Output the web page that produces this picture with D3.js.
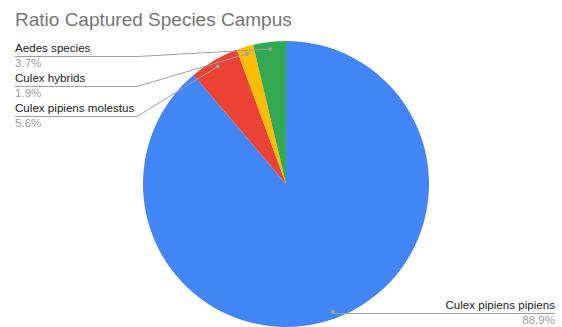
<!DOCTYPE html>
<html>
<head>
<meta charset="utf-8">
<script src="https://cdn.jsdelivr.net/npm/d3@7"></script>
<style>
  html, body { margin: 0; padding: 0; background: #fff; }
  svg { display: block; font-family: "Liberation Sans", Arial, sans-serif; }
</style>
</head>
<body>
<svg id="chart" width="562" height="327"></svg>
<script>
// Species share of captured mosquitoes on campus
const species = ["Culex pipiens pipiens", "Culex pipiens molestus", "Culex hybrids", "Aedes species"];
const shares = [88.9, 5.6, 1.9, 3.7];
const shareLabels = ["88.9%", "5.6%", "1.9%", "3.7%"];
const colours = ["#4285f4", "#ea4335", "#fbbc04", "#34a853"];

const svg = d3.select("#chart");
const cx = 286, cy = 184, R = 143;

const title = svg.append("text")
  .attr("x", 15).attr("y", 26)
  .attr("font-size", 19)
  .attr("fill", "#757575")
  .text("Ratio Captured Species Campus");

const data = species.map((name, i) => ({ name, value: shares[i], label: shareLabels[i], colour: colours[i] }));

const pie = d3.pie().sort(null).value(d => d.value);
const arcs = pie(data);
const arc = d3.arc().innerRadius(0).outerRadius(R);
const dotArc = d3.arc().innerRadius(R * 0.95).outerRadius(R * 0.95);

const g = svg.append("g").attr("transform", `translate(${cx},${cy})`);
g.selectAll("path.slice")
  .data(arcs)
  .join("path")
  .attr("class", "slice")
  .attr("d", arc)
  .attr("fill", d => d.data.colour);

// Label layout: small slices stacked on the left, the big one bottom-right
const leftRows = { "Aedes species": 0, "Culex hybrids": 1, "Culex pipiens molestus": 2 };
const lineCol = "#9e9e9e";
const labelSize = 11.6;

arcs.forEach(a => {
  const [dx, dy] = dotArc.centroid(a);
  const px = cx + dx, py = cy + dy;
  const name = a.data.name;
  let tx, baseY, anchor, elbowX, endX;
  if (name in leftRows) {
    const row = leftRows[name];
    baseY = 52 + row * 30;
    tx = 15; anchor = "start";
    elbowX = 137; endX = 15;
  } else {
    baseY = 309;
    tx = 555; anchor = "end";
    elbowX = px; endX = 555;
  }
  const uy = baseY + 4.5;
  svg.append("polyline")
    .attr("points", [[px, py], [elbowX, uy], [endX, uy]].map(p => p.join(",")).join(" "))
    .attr("fill", "none")
    .attr("stroke", lineCol)
    .attr("stroke-width", 1);
  svg.append("circle")
    .attr("cx", px).attr("cy", py).attr("r", 2)
    .attr("fill", lineCol);
  svg.append("text")
    .attr("x", tx).attr("y", baseY)
    .attr("text-anchor", anchor)
    .attr("font-size", labelSize)
    .attr("fill", "#222222")
    .text(name);
  svg.append("text")
    .attr("x", tx).attr("y", baseY + 15)
    .attr("text-anchor", anchor)
    .attr("font-size", labelSize)
    .attr("fill", "#9e9e9e")
    .text(a.data.label);
});
</script>
</body>
</html>
